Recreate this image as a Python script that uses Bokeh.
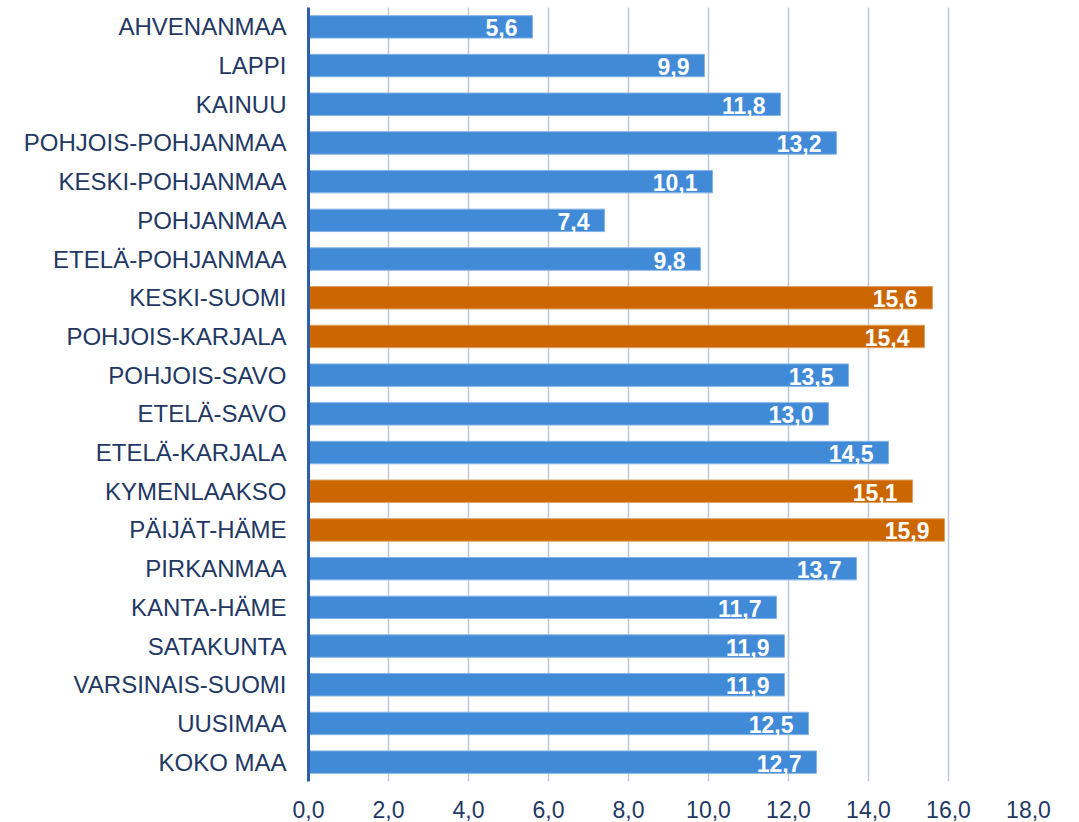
from bokeh.plotting import figure
from bokeh.models import ColumnDataSource, FixedTicker, FactorRange, Range1d
from bokeh.core.properties import value
from bokeh.embed import file_html
from bokeh.resources import INLINE

regions = ["AHVENANMAA", "LAPPI", "KAINUU", "POHJOIS-POHJANMAA", "KESKI-POHJANMAA",
           "POHJANMAA", "ETELÄ-POHJANMAA", "KESKI-SUOMI", "POHJOIS-KARJALA",
           "POHJOIS-SAVO", "ETELÄ-SAVO", "ETELÄ-KARJALA", "KYMENLAAKSO",
           "PÄIJÄT-HÄME", "PIRKANMAA", "KANTA-HÄME", "SATAKUNTA",
           "VARSINAIS-SUOMI", "UUSIMAA", "KOKO MAA"]
values = [5.6, 9.9, 11.8, 13.2, 10.1, 7.4, 9.8, 15.6, 15.4, 13.5, 13.0, 14.5,
          15.1, 15.9, 13.7, 11.7, 11.9, 11.9, 12.5, 12.7]
highlight = ["KESKI-SUOMI", "POHJOIS-KARJALA", "KYMENLAAKSO", "PÄIJÄT-HÄME"]
tick_values = [0, 2, 4, 6, 8, 10, 12, 14, 16, 18]
tick_labels = ["0,0", "2,0", "4,0", "6,0", "8,0", "10,0", "12,0", "14,0", "16,0", "18,0"]

BLUE, BLUE_EDGE = "#418AD7", "#86B4E6"
ORANGE, ORANGE_EDGE = "#CC6600", "#E0A060"
TEXT = "#1F3864"
FONT = "Liberation Sans"

src = ColumnDataSource(dict(
    region=regions,
    value=values,
    fill=[ORANGE if r in highlight else BLUE for r in regions],
    edge=[ORANGE_EDGE if r in highlight else BLUE_EDGE for r in regions],
    label=[f"{v:.1f}".replace(".", ",") for v in values],
))

p = figure(width=1068, height=822, output_backend="svg", toolbar_location=None,
           y_range=FactorRange(*list(reversed(regions))), x_range=Range1d(0, 18),
           min_border_left=308, min_border_right=40, min_border_top=7,
           min_border_bottom=41)
p.outline_line_color = None
p.background_fill_color = "white"

p.hbar(y="region", left=0, right="value", height=0.58, source=src,
       fill_color="fill", line_color="edge", line_width=1)
p.text(x="value", y="region", text="label", source=src, x_offset=-15,
       y_offset=1, text_align="right", text_baseline="middle", text_color="white",
       text_font=value(FONT), text_font_style="bold", text_font_size="23px")

p.xaxis.ticker = FixedTicker(ticks=tick_values)
p.xaxis.major_label_overrides = {t: l for t, l in zip(tick_values, tick_labels)}
p.xaxis.axis_line_color = None
p.xaxis.major_tick_line_color = None
p.xaxis.minor_tick_line_color = None
p.xaxis.major_label_standoff = 13
p.xaxis.major_label_text_font = FONT
p.xaxis.major_label_text_font_size = "23px"
p.xaxis.major_label_text_color = TEXT

p.yaxis.axis_line_color = "#2F5FA8"
p.yaxis.axis_line_width = 3
p.yaxis.major_tick_line_color = None
p.yaxis.minor_tick_line_color = None
p.yaxis.major_label_standoff = 16
p.yaxis.major_label_text_font = FONT
p.yaxis.major_label_text_font_size = "24px"
p.yaxis.major_label_text_color = TEXT

p.ygrid.grid_line_color = None
p.xgrid.grid_line_color = "#BCC8D8"
p.xgrid.grid_line_width = 1.5

open("out.html", "w").write(file_html(p, INLINE))
